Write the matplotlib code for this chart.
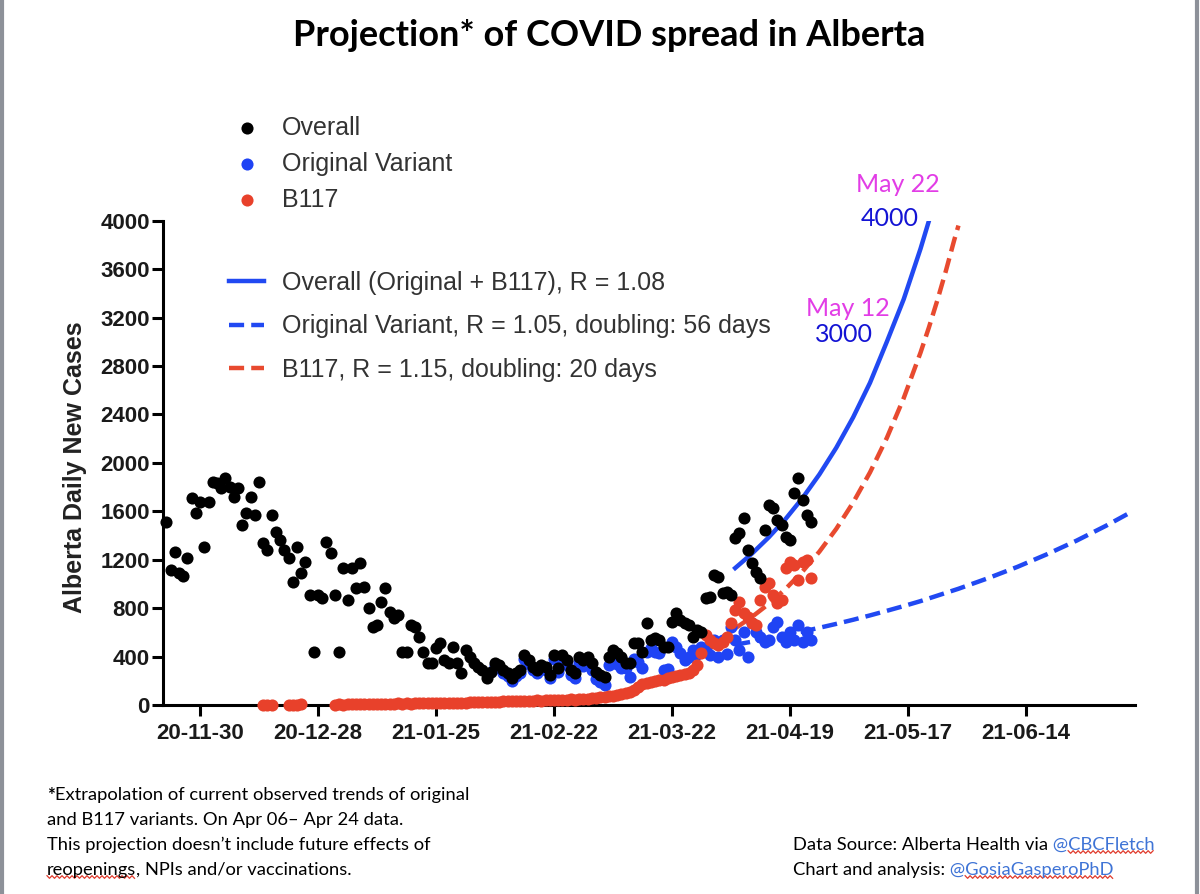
import numpy as np
import matplotlib.pyplot as plt
import matplotlib.dates as mdates
from matplotlib.lines import Line2D

nan = np.nan

# daily new cases (one value per day)
overall_start = "2020-11-22"
overall = [1514, 1115, 1266, 1087, 1065, 1211, 1707, 1583, 1679, 1307, 1679, 1844, 1831, 1789,
           1872, 1803, 1720, 1789, 1486, 1583, 1720, 1569, 1844, 1335, 1280, 1569, 1431, 1362,
           1280, 1211, 1018, 1307, 1087, 1183, 908, 440, 908, 881, 1349, 1252, 908, 440, 1129,
           867, 1129, 963, 1170, 977, 798, 647, 661, 853, 963, 771, 716, 743, 440, 440, 661, 647,
           564, 440, 344, 344, 468, 510, 372, 344, 482,
           344, 262, 454, 399, 344, 316, 289, 220, 275, 344, 330, 289, 262, 220, 262, 289, 413,
           372, 316, 289, 330, 316, 248, 413, 303, 413, 372, 289, 262, 399, 372, 399, 344, 275,
           248, 234, 399, 454, 427, 399, 344, 344, 509, 509, 440, 674, 537, 551,
           537, 482, 482, 688, 757, 702, 674, 661, 564, 619, 606, 881, 895, 1074, 1060, 922, 936,
           908, 1376, 1418, 1541, 1280, 1170, 1101, 1046, 1445, 1652, 1624, 1528, 1486, 1390,
           1363, 1748, 1872, 1693, 1569, 1511]

b117_start = "2020-12-15"
b117 = [3, 2, 4, nan, nan, nan, 2, 4, 3, 5, nan, nan, nan, nan, nan, nan, nan,
        4, 6, 3, 7, 5, 8, 6, 9, 7, 10, 8, 11, 9, 12, 10, 13, 11, 14, 12, 15, 13, 16, 14, 17,
        15, 18, 16, 19, 17,
        18, 20, 19, 22, 21, 24, 23, 26, 25, 28, 27, 30, 29, 32, 31, 34, 33, 36, 35, 38, 37, 40,
        39, 42, 41, 44, 43, 46, 45, 47,
        48, 52, 55, 58, 62, 66, 72, 78, 85, 92, 100, 110, 125, 150, 170, 180, 190, 196, 205,
        210, 220, 232, 240, 248, 256, 265, 289, 330, 426, 578, 537, 509, 495, 523, 560, 680,
        784, 853, 757, 729, 674, 661, 867, 977, 1005, 908, 840, 870, 1129, 1184, 1156, 1032,
        1180, 1200, 1049]

original_start = "2021-02-08"
original = [320, 305, 262, 240, 200, 240, 262, 380, 340, 290, 262, 300, 290, 220, 380, 270, 375,
            330, 250, 225, 355, 325, 345, 290, 215, 186,
            168, 327, 376, 342, 307, 303, 234, 384, 359, 303, 440, 468, 440,
            426, 289, 300, 523, 480, 426, 371, 400, 454, 420, 482, 460, 413, 540, 399, 537, 420,
            647, 537, 454, 600, 399, 674, 605, 564, 520, 537, 647, 688, 560, 523, 600, 537, 660,
            520, 600, 537]

# projection curves, read at the dates below
proj_overall_dates = ["2021-04-06", "2021-04-10", "2021-04-14", "2021-04-18", "2021-04-22",
                      "2021-04-26", "2021-04-30", "2021-05-04", "2021-05-08", "2021-05-12",
                      "2021-05-16", "2021-05-20", "2021-05-22"]
proj_overall = [1131, 1251, 1386, 1538, 1710, 1905, 2125, 2376, 2661, 3000, 3351, 3769, 4000]

proj_b117_dates = proj_overall_dates + ["2021-05-24", "2021-05-26", "2021-05-28", "2021-05-29"]
proj_b117 = [633, 728, 836, 960, 1103, 1267, 1455, 1672, 1921, 2206, 2534, 2911, 3120, 3344,
             3584, 3841, 3960]

proj_original_dates = proj_overall_dates[:12] + ["2021-05-29", "2021-06-05", "2021-06-12",
                                                 "2021-06-19", "2021-06-26", "2021-07-03",
                                                 "2021-07-09"]
proj_original = [498, 523, 550, 578, 607, 638, 670, 704, 740, 778, 817, 858, 960, 1047, 1141,
                 1245, 1357, 1480, 1594]

tick_dates = ["2020-11-30", "2020-12-28", "2021-01-25", "2021-02-22", "2021-03-22",
              "2021-04-19", "2021-05-17", "2021-06-14"]
y_ticks = list(range(0, 4001, 400))


def daily(start, n):
    return np.datetime64(start) + np.arange(n)


def as_dates(lst):
    return np.array(lst, dtype="datetime64[D]")


W, H = 1200, 894
BLUE_DOT = "#1f43f4"
RED_DOT = "#e8412b"
LINE_BLUE = "#2149f2"
LINE_RED = "#e84a2f"
TXT = "#333333"
DOT = 76

fig = plt.figure(figsize=(W / 100, H / 100), dpi=100)
ax = fig.add_axes([163 / W, 1 - 705 / H, (1135 - 163) / W, (705 - 220.7) / H])

# projections under the dots
l1, = ax.plot(as_dates(proj_overall_dates), proj_overall, color=LINE_BLUE, lw=3.2, zorder=2,
              label="Overall (Original + B117), R = 1.08")
l2, = ax.plot(as_dates(proj_original_dates), proj_original, color=LINE_BLUE, lw=3.2, zorder=2,
              ls=(0, (3.4, 1.6)), label="Original Variant, R = 1.05, doubling: 56 days")
l3, = ax.plot(as_dates(proj_b117_dates), proj_b117, color=LINE_RED, lw=3.2, zorder=2,
              ls=(0, (3.4, 1.6)), label="B117, R = 1.15, doubling: 20 days")

s_orig = ax.scatter(daily(original_start, len(original)), original, s=DOT, color=BLUE_DOT,
                    lw=0, zorder=3, clip_on=False, label="Original Variant")
s_b117 = ax.scatter(daily(b117_start, len(b117)), b117, s=DOT, color=RED_DOT,
                    lw=0, zorder=4, clip_on=False, label="B117")
s_all = ax.scatter(daily(overall_start, len(overall)), overall, s=DOT, color="black",
                   lw=0, zorder=5, clip_on=False, label="Overall")

x0 = mdates.date2num(np.datetime64("2020-11-30"))
ax.set_xlim(x0 - 8.8, x0 + 221.9)
ax.set_ylim(0, 4000)
ax.set_xticks(as_dates(tick_dates))
ax.xaxis.set_major_formatter(mdates.DateFormatter("%y-%m-%d"))
ax.set_yticks(y_ticks)

for side in ["top", "right"]:
    ax.spines[side].set_visible(False)
for side in ["left", "bottom"]:
    ax.spines[side].set_linewidth(2.2)
ax.tick_params(length=8, width=2.2, direction="out")
ax.tick_params(axis="x", pad=5)
ax.tick_params(axis="y", pad=1.5)
for lab in ax.get_xticklabels() + ax.get_yticklabels():
    lab.set_fontfamily("Liberation Sans")
    lab.set_fontweight("bold")
    lab.set_fontsize(16)
    lab.set_color("#1a1a1a")

fig.text(75 / W, 1 - 467 / H, "Alberta Daily New Cases", rotation=90, ha="center",
         va="center", fontsize=18, fontweight="bold", family="Liberation Sans", color="#222222")

fig.text(0.508, 1 - 35 / H, "Projection* of COVID spread in Alberta", ha="center", va="center",
         fontsize=26, fontweight="bold", family="Lato", color="black")

leg_font = dict(family="Liberation Sans", size=18)
leg1 = ax.legend(handles=[s_all, s_orig, s_b117], loc="upper left",
                 bbox_to_anchor=(229 / W, 1 - 116 / H), bbox_transform=fig.transFigure,
                 frameon=False, borderpad=0, borderaxespad=0, handlelength=1.4,
                 handletextpad=0.7, labelspacing=0.48, prop=leg_font, labelcolor=TXT,
                 scatterpoints=1)
ax.add_artist(leg1)
ax.legend(handles=[l1, l2, l3], loc="upper left",
          bbox_to_anchor=(229 / W, 1 - 271 / H), bbox_transform=fig.transFigure,
          frameon=False, borderpad=0, borderaxespad=0, handlelength=1.4,
          handletextpad=0.7, labelspacing=0.78, prop=leg_font, labelcolor=TXT)

# milestone labels on the overall curve
ann = dict(textcoords="offset pixels", ha="right", va="center", fontsize=18, family="Lato",
           annotation_clip=False)
ax.annotate("4000", xy=(np.datetime64("2021-05-22"), 4000), xytext=(-10, 2), color="#1414d4", **ann)
ax.annotate("May 22", xy=(np.datetime64("2021-05-22"), 4000), xytext=(11, 36), color="#e23de6", **ann)
ax.annotate("3000", xy=(np.datetime64("2021-05-12"), 3000), xytext=(-14, 7), color="#1414d4", **ann)
ax.annotate("May 12", xy=(np.datetime64("2021-05-12"), 3000), xytext=(3, 33), color="#e23de6", **ann)

# footer text
renderer = fig.canvas.get_renderer()
foot = dict(family="Lato", fontsize=13.2, va="center", color="black")


def run(x, y, parts):
    arts = []
    for s, kw in parts:
        t = fig.text(x / W, 1 - y / H, s, **{**foot, **kw})
        bb = t.get_window_extent(renderer)
        x = bb.x1
        arts.append(t)
    return arts


def squiggle(t, skip=0):
    bb = t.get_window_extent(renderer)
    xs = np.arange(bb.x0 + skip, bb.x1, 2.5)
    ys = bb.y0 + 1 + 1.3 * (-1) ** np.arange(len(xs))
    fig.add_artist(Line2D(xs / W, ys / H, transform=fig.transFigure, color="#e0392b", lw=0.9))


run(47, 795, [("*", dict(fontweight="bold")),
              ("Extrapolation of current observed trends of original", {})])
run(47, 820, [("and B117 variants. On Apr 06\u2013 Apr 24 data.", {})])
run(47, 845, [("This projection doesn\u2019t include future effects of", {})])
r4 = run(47, 870, [("reopenings", {}), (", NPIs and/or vaccinations.", {})])
squiggle(r4[0])

link = "#3f74d6"
r5 = run(793, 845, [("Data Source: Alberta Health via", {}), (" @CBCFletch", dict(color=link))])
squiggle(r5[1], skip=20)
r6 = run(793, 870, [("Chart and analysis:", {}), (" @GosiaGasperoPhD", dict(color=link))])
squiggle(r6[1], skip=20)

# page edge marks
for xe in (2 / W, 1 - 3 / W):
    fig.add_artist(Line2D([xe, xe], [0, 1], transform=fig.transFigure, color="#8d9199", lw=3))

fig.savefig("out.png", dpi=100)
